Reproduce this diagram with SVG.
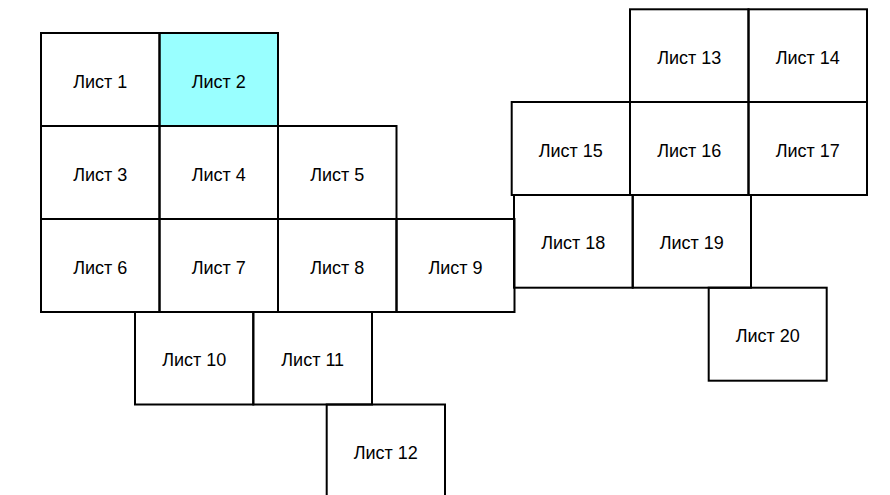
<svg xmlns="http://www.w3.org/2000/svg" width="890" height="495" viewBox="0 0 890 495">
<style>
.c{fill:none;stroke:#000;stroke-width:2;stroke-linejoin:miter}
.h{fill:#99ffff}
.t{font-family:"Liberation Sans",Arial,sans-serif;font-size:18px;fill:#000;text-anchor:middle}
</style>
<rect width="890" height="495" fill="#fff"/>
<g id="sheet2"><rect class="c h" x="159.5" y="33" width="118.5" height="93"/><text class="t" x="218.7" y="87.5">Лист 2</text></g>
<g id="sheet1"><rect class="c" x="41" y="33" width="118.5" height="93"/><text class="t" x="100.2" y="87.5">Лист 1</text></g>
<g id="sheet3"><rect class="c" x="41" y="126" width="118.5" height="93"/><text class="t" x="100.2" y="180.5">Лист 3</text></g>
<g id="sheet4"><rect class="c" x="159.5" y="126" width="118.5" height="93"/><text class="t" x="218.7" y="180.5">Лист 4</text></g>
<g id="sheet5"><rect class="c" x="278" y="126" width="118.5" height="93"/><text class="t" x="337.2" y="180.5">Лист 5</text></g>
<g id="sheet6"><rect class="c" x="41" y="219" width="118.5" height="93"/><text class="t" x="100.2" y="273.5">Лист 6</text></g>
<g id="sheet7"><rect class="c" x="159.5" y="219" width="118.5" height="93"/><text class="t" x="218.7" y="273.5">Лист 7</text></g>
<g id="sheet8"><rect class="c" x="278" y="219" width="118.5" height="93"/><text class="t" x="337.2" y="273.5">Лист 8</text></g>
<g id="sheet9"><rect class="c" x="396.5" y="219" width="118" height="93"/><text class="t" x="455.5" y="273.5">Лист 9</text></g>
<g id="sheet10"><rect class="c" x="135" y="312" width="118.3" height="92.5"/><text class="t" x="194.2" y="366">Лист 10</text></g>
<g id="sheet11"><rect class="c" x="253.3" y="312" width="118.7" height="92.5"/><text class="t" x="312.7" y="366">Лист 11</text></g>
<g id="sheet12"><rect class="c" x="326.7" y="404.5" width="118.3" height="93"/><text class="t" x="385.8" y="459">Лист 12</text></g>
<g id="sheet13"><rect class="c" x="630" y="9.3" width="118.5" height="92.7"/><text class="t" x="689.2" y="63.5">Лист 13</text></g>
<g id="sheet14"><rect class="c" x="748.5" y="9.3" width="118.5" height="92.7"/><text class="t" x="807.7" y="63.5">Лист 14</text></g>
<g id="sheet15"><rect class="c" x="511.7" y="102" width="118.3" height="93"/><text class="t" x="570.8" y="156.5">Лист 15</text></g>
<g id="sheet16"><rect class="c" x="630" y="102" width="118.5" height="93"/><text class="t" x="689.2" y="156.5">Лист 16</text></g>
<g id="sheet17"><rect class="c" x="748.5" y="102" width="118.5" height="93"/><text class="t" x="807.7" y="156.5">Лист 17</text></g>
<g id="sheet18"><rect class="c" x="514" y="195" width="118.7" height="92.7"/><text class="t" x="573.3" y="249.3">Лист 18</text></g>
<g id="sheet19"><rect class="c" x="632.7" y="195" width="118.3" height="92.7"/><text class="t" x="691.8" y="249.3">Лист 19</text></g>
<g id="sheet20"><rect class="c" x="708.7" y="287.7" width="118" height="93"/><text class="t" x="767.7" y="342.3">Лист 20</text></g>
<g id="connectors"/>
</svg>
